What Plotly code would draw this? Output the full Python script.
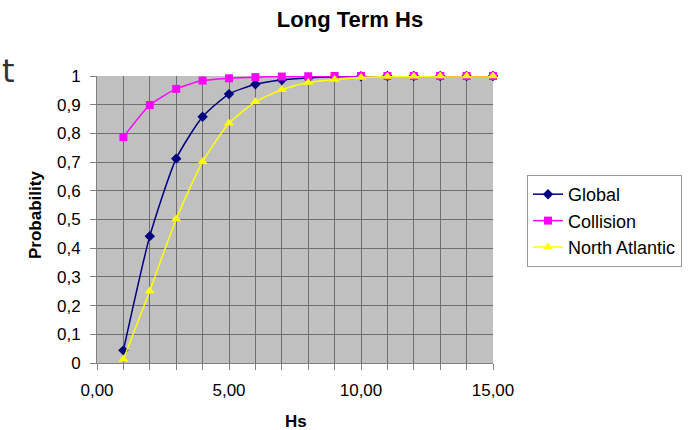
import plotly.graph_objects as go

hs = [1, 2, 3, 4, 5, 6, 7, 8, 9, 10, 11, 12, 13, 14, 15]
global_p = [0.044, 0.442, 0.712, 0.858, 0.937, 0.971, 0.986, 0.993, 0.997, 0.999, 1.0, 1.0, 1.0, 1.0, 1.0]
collision_p = [0.787, 0.899, 0.955, 0.984, 0.992, 0.996, 0.998, 0.999, 1.0, 1.0, 1.0, 1.0, 1.0, 1.0, 1.0]
north_atlantic_p = [0.013, 0.251, 0.502, 0.701, 0.835, 0.910, 0.952, 0.977, 0.988, 0.995, 0.998, 0.999, 1.0, 1.0, 1.0]

y_ticks = [0, 0.1, 0.2, 0.3, 0.4, 0.5, 0.6, 0.7, 0.8, 0.9, 1]
y_labels = ["0", "0,1", "0,2", "0,3", "0,4", "0,5", "0,6", "0,7", "0,8", "0,9", "1"]
x_ticks = [0, 5, 10, 15]
x_labels = ["0,00", "5,00", "10,00", "15,00"]

FONT = "Liberation Sans, Arial, sans-serif"
L, R, T, B = 97, 493, 76, 363
PW, PH = R - L, B - T

fig = go.Figure()
series = [
    ("Global", global_p, "#000080", "diamond", 8),
    ("Collision", collision_p, "#FF00FF", "square", 8),
    ("North Atlantic", north_atlantic_p, "#FFFF00", "triangle-up", 9),
]
for name, vals, col, sym, sz in series:
    fig.add_trace(go.Scatter(
        x=hs, y=vals, name=name, mode="lines+markers",
        line=dict(color=col, width=1.5, shape="spline", smoothing=0.6),
        marker=dict(color=col, symbol=sym, size=sz),
        cliponaxis=False,
    ))

fig.update_layout(
    width=695, height=430,
    margin=dict(l=L, r=695 - R, t=T, b=430 - B, autoexpand=False),
    paper_bgcolor="white",
    plot_bgcolor="#C0C0C0",
    font=dict(family=FONT, size=17, color="#000000"),
    title=dict(text="<b>Long Term Hs</b>", x=350 / 695, xanchor="center",
               y=1 - 19 / 430, yanchor="middle", font=dict(size=22, family=FONT)),
    showlegend=True,
    legend=dict(x=(527 - L) / PW, y=(B - 175) / PH, xanchor="left", yanchor="top",
                bordercolor="#9a9a9a", borderwidth=1, bgcolor="white",
                font=dict(size=18, family=FONT), tracegroupgap=0,
                itemwidth=30),
    xaxis=dict(
        range=[0, 15], tickvals=x_ticks, ticktext=x_labels,
        showgrid=False, zeroline=False, automargin=False,
        showline=True, linecolor="#808080", linewidth=1,
        ticks="outside", ticklen=6, tickcolor="#808080",
        ticklabelstandoff=6,
        minor=dict(dtick=1, showgrid=True, gridcolor="#6e6e6e", gridwidth=1,
                   ticks="outside", ticklen=6, tickcolor="#808080"),
        tickfont=dict(size=17),
    ),
    yaxis=dict(
        range=[0, 1], tickvals=y_ticks, ticktext=y_labels,
        showgrid=True, gridcolor="#6e6e6e", gridwidth=1, zeroline=False, automargin=False,
        showline=True, linecolor="#808080", linewidth=1,
        ticks="outside", ticklen=6, tickcolor="#808080",
        ticklabelstandoff=6,
        tickfont=dict(size=17),
    ),
)

# axis titles
fig.add_annotation(text="<b>Hs</b>", xref="paper", yref="paper",
                   x=(296 - L) / PW, y=(B - 421) / PH, xanchor="center", yanchor="middle",
                   showarrow=False, font=dict(size=17, family=FONT))
fig.add_annotation(text="<b>Probability</b>", xref="paper", yref="paper", textangle=-90,
                   x=(35 - L) / PW, y=(B - 215) / PH, xanchor="center", yanchor="middle",
                   showarrow=False, font=dict(size=17, family=FONT))

fig.add_annotation(text="t", xref="paper", yref="paper",
                   x=(1 - L) / PW, y=(B - 71) / PH, xanchor="left", yanchor="middle",
                   showarrow=False, borderpad=0,
                   font=dict(size=32, family="DejaVu Sans", color="#333333"))

fig.write_html("out.html")
